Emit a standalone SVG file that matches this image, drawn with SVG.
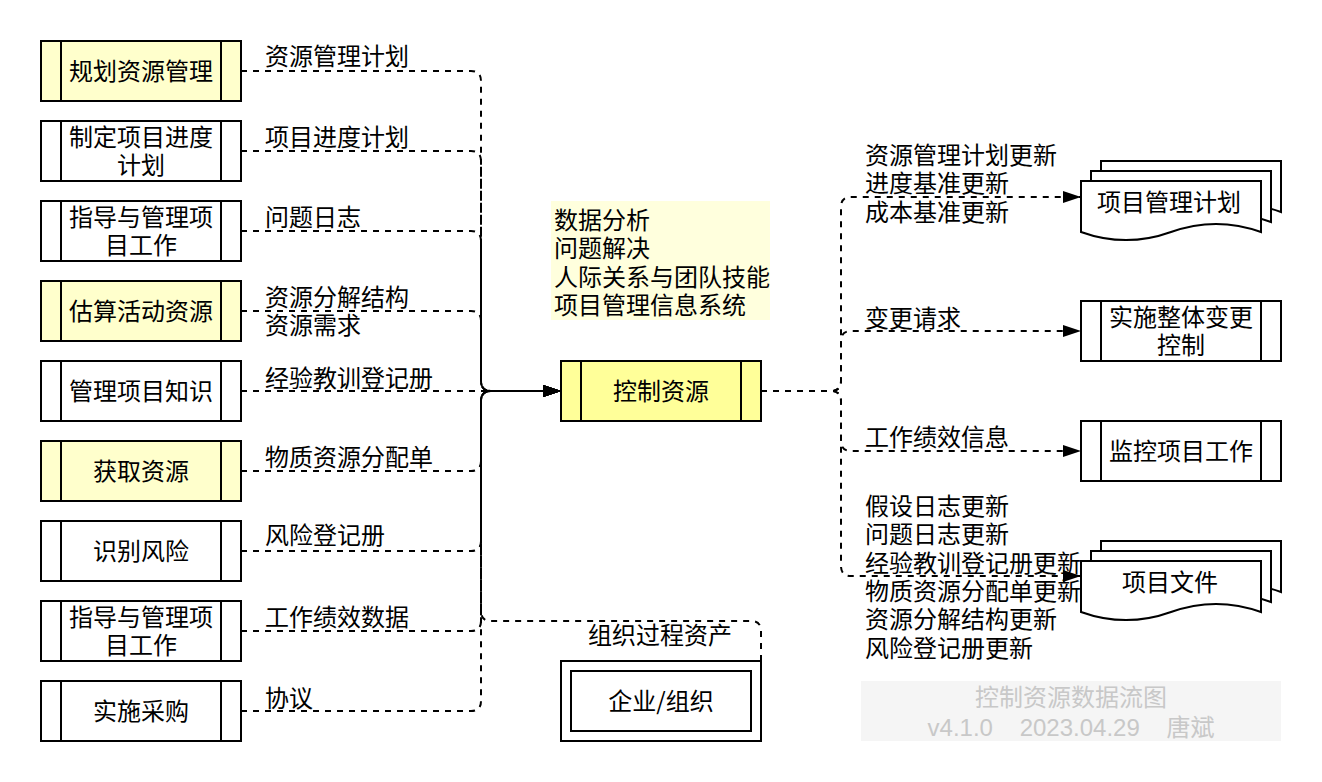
<svg xmlns="http://www.w3.org/2000/svg" width="1322" height="782" viewBox="0 0 1322 782">
<style>
.box{fill:#fff;stroke:#000;stroke-width:2}
.ylw{fill:#FFFFCC}
.ctr{fill:#FFFF99}
.ln{stroke:#000;stroke-width:2;fill:none}
.t{font-family:"Noto Sans CJK SC","Noto Sans CJK JP",sans-serif;font-size:24px;fill:#000}
.m{text-anchor:middle}
.edge{fill:none;stroke:#000;stroke-width:2;stroke-dasharray:6 6}
.wm{font-family:"Liberation Sans","Noto Sans CJK SC",sans-serif;font-size:24px;fill:#C8C8C8;text-anchor:middle}
</style>
<defs>
<marker id="arr" markerUnits="userSpaceOnUse" markerWidth="18" markerHeight="12" refX="18" refY="6" orient="auto" viewBox="0 0 18 12">
<path d="M0,0 L18,6 L0,12 Z" fill="#000" stroke="none"/>
</marker>
</defs>
<rect width="1322" height="782" fill="#fff"/>

<g id="connectors">
<path class="edge" marker-end="url(#arr)" d="M241,71 H471 Q481,71 481,81 V381 Q481,391 491,391 H561"/>
<path class="edge" marker-end="url(#arr)" d="M241,151 H471 Q481,151 481,161 V381 Q481,391 491,391 H561"/>
<path class="edge" marker-end="url(#arr)" d="M241,231 H471 Q481,231 481,241 V381 Q481,391 491,391 H561"/>
<path class="edge" marker-end="url(#arr)" d="M241,311 H471 Q481,311 481,321 V381 Q481,391 491,391 H561"/>
<path class="edge" marker-end="url(#arr)" d="M241,391 H561"/>
<path class="edge" marker-end="url(#arr)" d="M241,471 H471 Q481,471 481,461 V401 Q481,391 491,391 H561"/>
<path class="edge" marker-end="url(#arr)" d="M241,551 H471 Q481,551 481,541 V401 Q481,391 491,391 H561"/>
<path class="edge" marker-end="url(#arr)" d="M241,631 H471 Q481,631 481,621 V401 Q481,391 491,391 H561"/>
<path class="edge" marker-end="url(#arr)" d="M241,711 H471 Q481,711 481,701 V401 Q481,391 491,391 H561"/>
<path class="edge" marker-end="url(#arr)" d="M761,661 V631 Q761,621 751,621 H491 Q481,621 481,611 V401 Q481,391 491,391 H561"/>
<path class="edge" marker-end="url(#arr)" d="M761,391 H831 Q841,391 841,381 V207 Q841,197 851,197 H1081"/>
<path class="edge" marker-end="url(#arr)" d="M761,391 H831 Q841,391 841,381 V341 Q841,331 851,331 H1081"/>
<path class="edge" marker-end="url(#arr)" d="M761,391 H831 Q841,391 841,401 V441 Q841,451 851,451 H1081"/>
<path class="edge" marker-end="url(#arr)" d="M761,391 H831 Q841,391 841,401 V566 Q841,576 851,576 H1081"/>
</g>

<g id="n1"><rect class="box ylw" x="41" y="41" width="200" height="60"/><path class="ln" d="M61,41 V101 M221,41 V101"/><text class="t m" x="141" y="80">规划资源管理</text></g>
<g id="n2"><rect class="box" x="41" y="121" width="200" height="60"/><path class="ln" d="M61,121 V181 M221,121 V181"/><text class="t m" x="141" y="146">制定项目进度</text><text class="t m" x="141" y="174">计划</text></g>
<g id="n3"><rect class="box" x="41" y="201" width="200" height="60"/><path class="ln" d="M61,201 V261 M221,201 V261"/><text class="t m" x="141" y="226">指导与管理项</text><text class="t m" x="141" y="254">目工作</text></g>
<g id="n4"><rect class="box ylw" x="41" y="281" width="200" height="60"/><path class="ln" d="M61,281 V341 M221,281 V341"/><text class="t m" x="141" y="320">估算活动资源</text></g>
<g id="n5"><rect class="box" x="41" y="361" width="200" height="60"/><path class="ln" d="M61,361 V421 M221,361 V421"/><text class="t m" x="141" y="400">管理项目知识</text></g>
<g id="n6"><rect class="box ylw" x="41" y="441" width="200" height="60"/><path class="ln" d="M61,441 V501 M221,441 V501"/><text class="t m" x="141" y="480">获取资源</text></g>
<g id="n7"><rect class="box" x="41" y="521" width="200" height="60"/><path class="ln" d="M61,521 V581 M221,521 V581"/><text class="t m" x="141" y="560">识别风险</text></g>
<g id="n8"><rect class="box" x="41" y="601" width="200" height="60"/><path class="ln" d="M61,601 V661 M221,601 V661"/><text class="t m" x="141" y="626">指导与管理项</text><text class="t m" x="141" y="654">目工作</text></g>
<g id="n9"><rect class="box" x="41" y="681" width="200" height="60"/><path class="ln" d="M61,681 V741 M221,681 V741"/><text class="t m" x="141" y="720">实施采购</text></g>

<g id="tools"><rect x="551" y="201" width="219" height="119" fill="#FFFFDD"/>
<text class="t" x="554" y="229">数据分析</text>
<text class="t" x="554" y="257.3">问题解决</text>
<text class="t" x="554" y="285.7">人际关系与团队技能</text>
<text class="t" x="554" y="314">项目管理信息系统</text></g>

<g id="center"><rect class="box ctr" x="561" y="361" width="200" height="60"/><path class="ln" d="M581,361 V421 M741,361 V421"/><text class="t m" x="661" y="400">控制资源</text></g>

<g id="org"><rect class="box" x="561" y="661" width="200" height="80"/><rect class="box" x="571" y="671" width="180" height="60"/><text class="t m" x="661" y="710">企业/组织</text></g>

<g id="pmplan">
<path class="box" d="M1101,161 H1281 V212 Q1236,195.8 1191,212 Q1146,228.2 1101,212 Z"/>
<path class="box" d="M1091,171 H1271 V222 Q1226,205.8 1181,222 Q1136,238.2 1091,222 Z"/>
<path class="box" d="M1081,181 H1261 V232 Q1216,215.8 1171,232 Q1126,248.2 1081,232 Z"/>
<text class="t m" x="1169" y="211">项目管理计划</text></g>

<g id="change"><rect class="box" x="1081" y="301" width="200" height="60"/><path class="ln" d="M1101,301 V361 M1261,301 V361"/><text class="t m" x="1181" y="326">实施整体变更</text><text class="t m" x="1181" y="354">控制</text></g>

<g id="monitor"><rect class="box" x="1081" y="421" width="200" height="60"/><path class="ln" d="M1101,421 V481 M1261,421 V481"/><text class="t m" x="1181" y="460">监控项目工作</text></g>

<g id="pdocs">
<path class="box" d="M1101,541 H1281 V592 Q1236,575.8 1191,592 Q1146,608.2 1101,592 Z"/>
<path class="box" d="M1091,551 H1271 V602 Q1226,585.8 1181,602 Q1136,618.2 1091,602 Z"/>
<path class="box" d="M1081,561 H1261 V612 Q1216,595.8 1171,612 Q1126,628.2 1081,612 Z"/>
<text class="t m" x="1170" y="591">项目文件</text></g>

<g id="labels">
<text class="t" x="265" y="64.5">资源管理计划</text>
<text class="t" x="265" y="145.7">项目进度计划</text>
<text class="t" x="265" y="225.7">问题日志</text>
<text class="t" x="265" y="305.7">资源分解结构</text>
<text class="t" x="265" y="334">资源需求</text>
<text class="t" x="265" y="387">经验教训登记册</text>
<text class="t" x="265" y="465.7">物质资源分配单</text>
<text class="t" x="265" y="544">风险登记册</text>
<text class="t" x="265" y="625.7">工作绩效数据</text>
<text class="t" x="265" y="706.5">协议</text>
<text class="t m" x="660" y="644">组织过程资产</text>
<text class="t" x="865" y="164">资源管理计划更新</text>
<text class="t" x="865" y="192.3">进度基准更新</text>
<text class="t" x="865" y="220.7">成本基准更新</text>
<text class="t" x="865" y="327.3">变更请求</text>
<text class="t" x="865" y="445.7">工作绩效信息</text>
<text class="t" x="865" y="515">假设日志更新</text>
<text class="t" x="865" y="543.3">问题日志更新</text>
<text class="t" x="865" y="571.7">经验教训登记册更新</text>
<text class="t" x="865" y="600">物质资源分配单更新</text>
<text class="t" x="865" y="628.3">资源分解结构更新</text>
<text class="t" x="865" y="656.6">风险登记册更新</text>
</g>

<g id="watermark">
<rect x="861" y="681" width="420" height="60" fill="#F5F5F5"/>
<text class="wm" x="1071" y="705.7">控制资源数据流图</text>
<text class="wm" x="1071" y="735.7" xml:space="preserve" style="white-space:pre">v4.1.0    2023.04.29    唐斌</text>
</g>
</svg>
